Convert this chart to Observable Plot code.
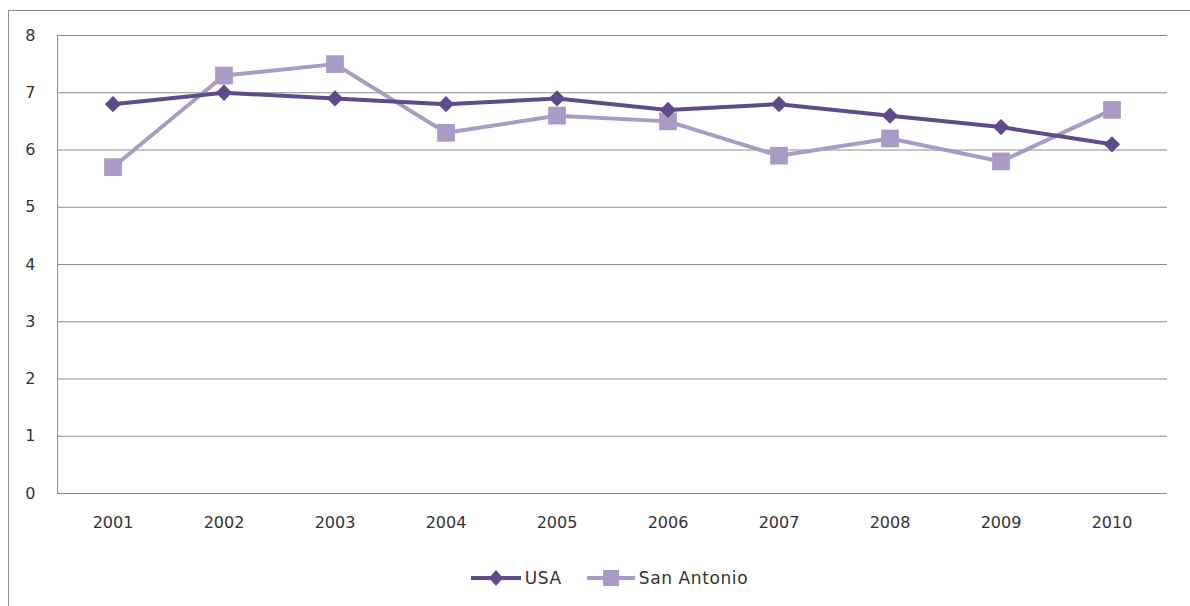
<!DOCTYPE html>
<html><head><meta charset="utf-8">
<script src="https://cdn.jsdelivr.net/npm/d3@7"></script>
<script src="https://cdn.jsdelivr.net/npm/@observablehq/plot@0.6"></script>
<style>
body{margin:0;background:#fff;font-family:"DejaVu Sans",sans-serif;}
#wrap{position:absolute;left:8px;top:10px;width:1182px;height:600px;border-left:1px solid #8c8c8c;border-top:1px solid #8c8c8c;}
#legend{display:flex;justify-content:center;align-items:center;gap:24px;height:30px;margin-top:12px;font-size:17px;letter-spacing:0.6px;color:#333;padding-left:18px;}
#legend span{display:flex;align-items:center;gap:3px;}
</style></head>
<body><div id="wrap"><div id="chart"></div><div id="legend"></div></div>
<script>
const years = ["2001","2002","2003","2004","2005","2006","2007","2008","2009","2010"];
const usa = [6.8,7.0,6.9,6.8,6.9,6.7,6.8,6.6,6.4,6.1];
const sanAntonio = [5.7,7.3,7.5,6.3,6.6,6.5,5.9,6.2,5.8,6.7];
const yTicks = [0,1,2,3,4,5,6,7,8];
const seriesNames = ["USA","San Antonio"];
const colors = ["#5f4a8b","#a99bc6"];

const data = [];
years.forEach((y,i)=>{
  data.push({year:y, value:usa[i], series:seriesNames[0]});
  data.push({year:y, value:sanAntonio[i], series:seriesNames[1]});
});
const usaData = data.filter(d=>d.series==="USA");
const saData = data.filter(d=>d.series==="San Antonio");

const chart = Plot.plot({
  width:1182, height:540,
  marginLeft:48, marginRight:24, marginTop:24, marginBottom:58,
  style:{fontFamily:"'DejaVu Sans',sans-serif", fontSize:"16px", color:"#333", background:"#fff"},
  x:{type:"band", domain:years, padding:0, label:null},
  y:{domain:[0,8], ticks:yTicks, label:null},
  marks:[
    Plot.gridY(yTicks,{stroke:"#8c8c8c", strokeOpacity:1, strokeWidth:1}),
    Plot.ruleX([0],{x:()=>years[0], stroke:"#8c8c8c", dx:-55.4}),
    Plot.axisY(yTicks,{tickSize:0, tickPadding:22, textAnchor:"end", fontSize:16, tickFormat:d=>String(d)}),
    Plot.axisX({tickSize:0, tickPadding:23, fontSize:16}),
    Plot.line(saData,{x:"year", y:"value", stroke:colors[1], strokeWidth:4}),
    Plot.dot(saData,{x:"year", y:"value", symbol:"square", fill:colors[1], r:10}),
    Plot.line(usaData,{x:"year", y:"value", stroke:colors[0], strokeWidth:4}),
    Plot.dot(usaData,{x:"year", y:"value", symbol:"square", rotate:45, fill:colors[0], r:6.5})
  ]
});
document.getElementById("chart").appendChild(chart);

const leg = document.getElementById("legend");
leg.innerHTML = `
<span><svg width="52" height="20"><line x1="1" x2="51" y1="10" y2="10" stroke="${colors[0]}" stroke-width="4"/><path d="M26 2 L33 10 L26 18 L19 10Z" fill="${colors[0]}"/></svg>${seriesNames[0]}</span>
<span><svg width="50" height="20"><line x1="1" x2="49" y1="10" y2="10" stroke="${colors[1]}" stroke-width="4"/><rect x="17" y="2" width="16" height="16" fill="${colors[1]}"/></svg>${seriesNames[1]}</span>`;
</script></body></html>
